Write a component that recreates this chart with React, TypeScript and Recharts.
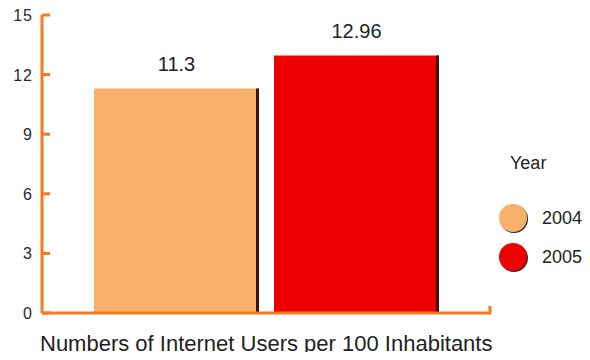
import { BarChart, Bar, XAxis, YAxis, LabelList } from 'recharts'

// Internet users per 100 inhabitants, by year
const years = ['2004', '2005']
const usersPer100 = [11.3, 12.96]
const barColors = ['#F8B06A', '#EE0000']
const yTicks = [0, 3, 6, 9, 12, 15]

const axisTitle = 'Numbers of Internet Users per 100 Inhabitants'
const legendTitle = 'Year'

const data = [
  years.reduce<Record<string, string | number>>(
    (row, year, i) => ({ ...row, [year]: usersPer100[i] }),
    { name: 'users' },
  ),
]

const AXIS = '#F47A1F'
const FONT = 'Liberation Sans, Arial, sans-serif'
const WIDTH = 590
const HEIGHT = 360
const MARGIN = { top: 15, right: 100, bottom: 7, left: 0 }
const Y_AXIS_W = 42
const PLOT_W = WIDTH - MARGIN.left - MARGIN.right - Y_AXIS_W

// bar with a thin dark edge on its right side
const ShadedBar = (props: any) => {
  const { x, y, width, height, fill } = props
  if (!height || height <= 0) return null
  return (
    <g>
      <rect x={x} y={y} width={width} height={height} fill={fill} />
      <rect x={x + width - 3} y={y} width={3} height={height} fill="#3A1414" />
    </g>
  )
}

// y tick: label on the left, short mark pointing into the plot
const YTick = (props: any) => {
  const { x, y, payload } = props
  const ax = MARGIN.left + Y_AXIS_W
  return (
    <g>
      <line x1={ax} x2={ax + 8} y1={y} y2={y} stroke={AXIS} strokeWidth={3} />
      {payload.value === 0 && (
        <line x1={ax + PLOT_W} x2={ax + PLOT_W} y1={y + 1.5} y2={y - 7} stroke={AXIS} strokeWidth={3} />
      )}
      <text x={x} y={y} dy={6} textAnchor="end" fill="#2A2A2A" fontSize={16} letterSpacing={1} fontFamily={FONT}>
        {payload.value}
      </text>
    </g>
  )
}

const YearLegend = () => (
  <svg width={96} height={140} style={{ position: 'absolute', left: 492, top: 140 }}>
    <text x={18} y={29} fill="#222" fontSize={18} fontFamily={FONT}>
      {legendTitle}
    </text>
    {years.map((year, i) => (
      <g key={year}>
        <circle cx={22} cy={79 + i * 39} r={14} fill="#2A2A3A" />
        <circle cx={21} cy={78 + i * 39} r={14} fill={barColors[i]} />
        <text x={50} y={84 + i * 39} fill="#222" fontSize={18} fontFamily={FONT}>
          {year}
        </text>
      </g>
    ))}
  </svg>
)

export default function App() {
  return (
    <div style={{ margin: -8, background: '#fff', width: WIDTH, height: HEIGHT, position: 'relative' }}>
      <BarChart width={WIDTH} height={HEIGHT} data={data} margin={MARGIN} barGap={15} barSize={165}>
        <XAxis
          dataKey="name"
          height={40}
          tick={false}
          tickLine={false}
          axisLine={{ stroke: AXIS, strokeWidth: 3 }}
          label={{
            value: axisTitle,
            position: 'insideBottomLeft',
            offset: 2,
            fill: '#222',
            fontSize: 22,
            fontFamily: FONT,
            dx: -4,
          }}
        />
        <YAxis
          width={Y_AXIS_W}
          domain={[0, 15]}
          ticks={yTicks}
          interval={0}
          tickSize={0}
          tickMargin={9}
          tickLine={false}
          tick={<YTick />}
          axisLine={{ stroke: AXIS, strokeWidth: 3 }}
        />
        {years.map((year, i) => (
          <Bar key={year} dataKey={year} fill={barColors[i]} shape={<ShadedBar />} isAnimationActive={false}>
            <LabelList dataKey={year} position="top" offset={18} fill="#222" fontSize={20} fontFamily={FONT} />
          </Bar>
        ))}
      </BarChart>
      <YearLegend />
    </div>
  )
}
